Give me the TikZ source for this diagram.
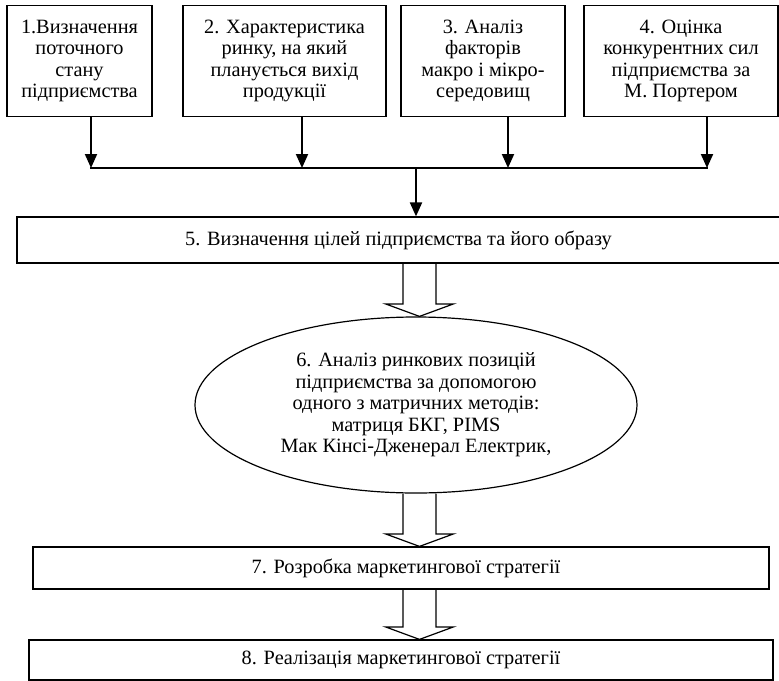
\documentclass[tikz,border=0pt]{standalone}
\usepackage{fontspec}
\setmainfont{Liberation Serif}
\usetikzlibrary{arrows.meta,calc,shapes.geometric}
\newcommand{\hollowarrow}[2]{%
  \draw[hollow] ($(#1.south -| ax)+(-16.5,0)$) -- ($(#2.north -| ax)+(-16.5,-12.5)$)
    -- ($(#2.north -| ax)+(-34,-12.5)$) -- (#2.north -| ax)
    -- ($(#2.north -| ax)+(34,-12.5)$) -- ($(#2.north -| ax)+(16.5,-12.5)$)
    -- ($(#1.south -| ax)+(16.5,0)$);}
\begin{document}
\begin{tikzpicture}[x=1pt,y=-1pt,
  box/.style={draw,line width=1.2pt,inner sep=0pt,align=center,font=\fontsize{20.3}{21.6}\selectfont},
  conn/.style={line width=2pt,-{Triangle[length=14pt,width=12pt]}},
  bar/.style={line width=2pt},
  hollow/.style={line width=1.2pt,line join=miter}]
\useasboundingbox (0,0) rectangle (779,680);
\coordinate (ax) at (419.5,0);
\node[box,minimum width=145,minimum height=111] (b1) at (79.5,61)
  {1.Визначення\\поточного\\стану\\підприємства};
\node[box,minimum width=203,minimum height=111] (b2) at (284.5,61)
  {2. Характеристика\\ринку, на який\\планується вихід\\продукції};
\node[box,minimum width=164,minimum height=111] (b3) at (483,61)
  {3. Аналіз\\факторів\\макро і мікро-\\середовищ};
\node[box,minimum width=194,minimum height=111] (b4) at (681,61)
  {4. Оцінка\\конкурентних сил\\підприємства за\\М. Портером};
\coordinate (j1) at (91,168);
\coordinate (j2) at (302,168);
\coordinate (j3) at (508,168);
\coordinate (j4) at (707,168);
\coordinate (jc) at (416,168);
\draw[conn] (b1.south -| j1) -- (j1);
\draw[conn] (b2.south -| j2) -- (j2);
\draw[conn] (b3.south -| j3) -- (j3);
\draw[conn] (b4.south -| j4) -- (j4);
\draw[bar] ($(j1)+(-1,0)$) -- ($(j4)+(1,0)$);
\node[box,minimum width=763,minimum height=46] (b5) at (398.5,240)
  {5. Визначення цілей підприємства та його образу};
\draw[conn] (jc) -- (b5.north -| jc);
\node[box,ellipse,minimum width=442,minimum height=176] (e6) at (416,405)
  {6. Аналіз ринкових позицій\\підприємства за допомогою\\одного з матричних методів:\\матриця БКГ, PIMS\\Мак Кінсі-Дженерал Електрик,};
\node[box,minimum width=736,minimum height=42] (b7) at (401,568)
  {\hspace*{10pt}7. Розробка маркетингової стратегії};
\node[box,minimum width=744,minimum height=40] (b8) at (401,660)
  {8. Реалізація маркетингової стратегії};
\hollowarrow{b5}{e6}
\hollowarrow{e6}{b7}
\hollowarrow{b7}{b8}
\end{tikzpicture}
\end{document}
